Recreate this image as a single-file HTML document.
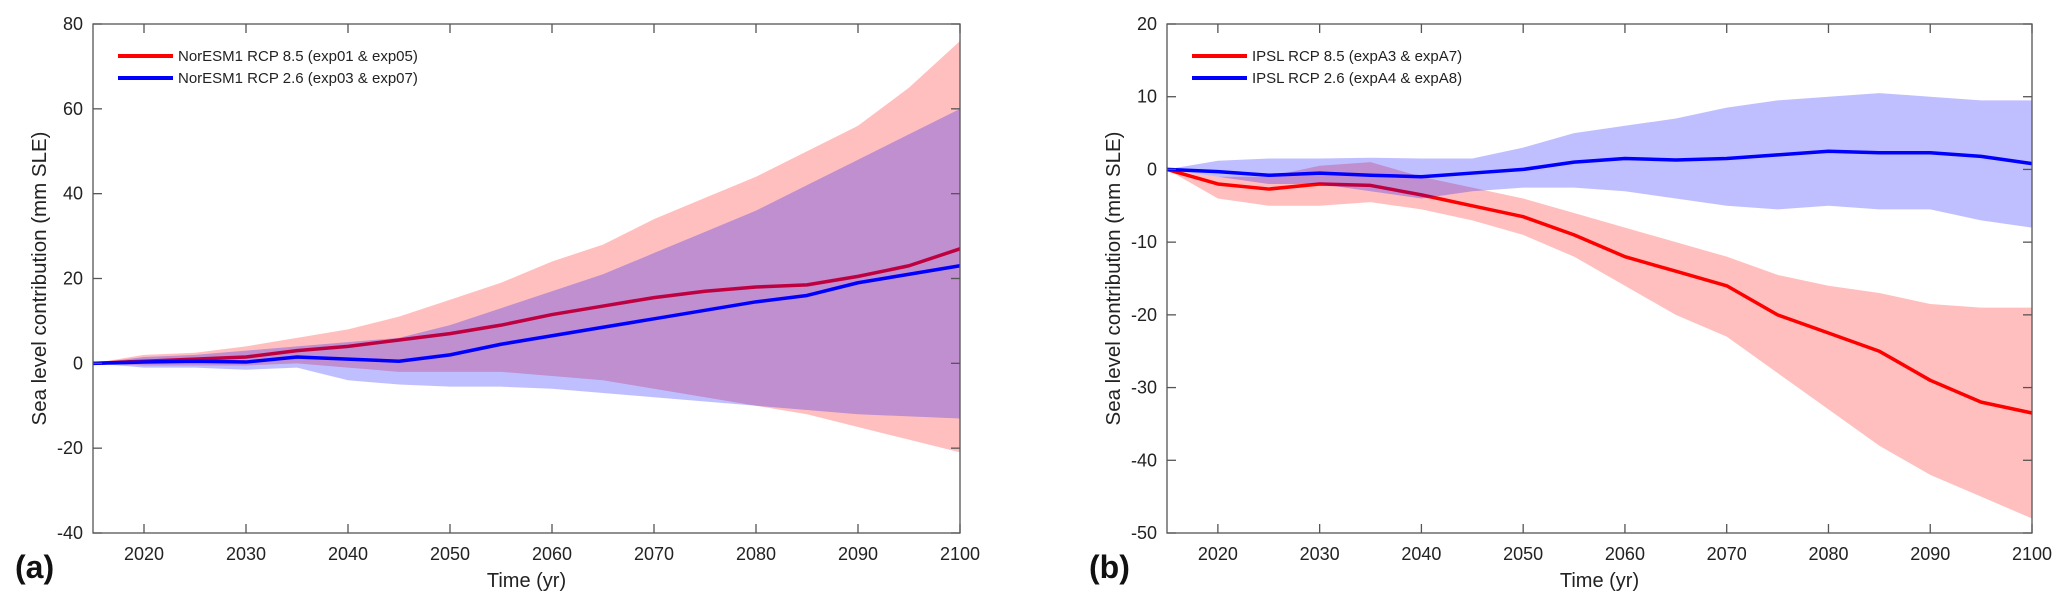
<!DOCTYPE html>
<html><head><meta charset="utf-8">
<style>
html,body{margin:0;padding:0;background:#fff;}
svg{display:block;font-family:"Liberation Sans",Arial,sans-serif;}
</style></head>
<body>
<svg id="chart" width="2067" height="609" viewBox="0 0 2067 609" xmlns="http://www.w3.org/2000/svg"></svg>
<script>
const years = [2015,2020,2025,2030,2035,2040,2045,2050,2055,2060,2065,2070,2075,2080,2085,2090,2095,2100];
// Panel (a) NorESM1
const aRedMean = [0,0.5,1,1.5,3,4,5.5,7,9,11.5,13.5,15.5,17,18,18.5,20.5,23,27];
const aRedUp   = [0,2,2.5,4,6,8,11,15,19,24,28,34,39,44,50,56,65,76];
const aRedLo   = [0,-0.5,-0.5,-0.5,0,-1,-2,-2,-2,-3,-4,-6,-8,-10,-12,-15,-18,-21];
const aBlueMean= [0,0.3,0.5,0.3,1.5,1,0.5,2,4.5,6.5,8.5,10.5,12.5,14.5,16,19,21,23];
const aBlueUp  = [0,1.5,2,3,4,5,6,9,13,17,21,26,31,36,42,48,54,60];
const aBlueLo  = [0,-1,-1,-1.5,-1,-4,-5,-5.5,-5.5,-6,-7,-8,-9,-10,-11,-12,-12.5,-13];
// Panel (b) IPSL
const bRedMean = [0,-2,-2.7,-2,-2.2,-3.5,-5,-6.5,-9,-12,-14,-16,-20,-22.5,-25,-29,-32,-33.5];
const bRedUp   = [0,-1,-1,0.5,1,-1,-2.5,-4,-6,-8,-10,-12,-14.5,-16,-17,-18.5,-19,-19];
const bRedLo   = [0,-4,-5,-5,-4.5,-5.5,-7,-9,-12,-16,-20,-23,-28,-33,-38,-42,-45,-48];
const bBlueMean= [0,-0.3,-0.8,-0.5,-0.8,-1,-0.5,0,1,1.5,1.3,1.5,2,2.5,2.3,2.3,1.8,0.8];
const bBlueUp  = [0,1.2,1.5,1.5,1.6,1.5,1.5,3,5,6,7,8.5,9.5,10,10.5,10,9.5,9.5];
const bBlueLo  = [0,-1,-2,-2,-3,-4,-3,-2.5,-2.5,-3,-4,-5,-5.5,-5,-5.5,-5.5,-7,-8];
const xTicks = [2020,2030,2040,2050,2060,2070,2080,2090,2100];
const aYTicks = [-40,-20,0,20,40,60,80];
const bYTicks = [-50,-40,-30,-20,-10,0,10,20];
const aLegend = ["NorESM1 RCP 8.5 (exp01 & exp05)","NorESM1 RCP 2.6 (exp03 & exp07)"];
const bLegend = ["IPSL RCP 8.5 (expA3 & expA7)","IPSL RCP 2.6 (expA4 & expA8)"];

const NS="http://www.w3.org/2000/svg";
const svg=document.getElementById('chart');
function mk(tag,attrs,parent){const e=document.createElementNS(NS,tag);for(const k in attrs)e.setAttribute(k,attrs[k]);(parent||svg).appendChild(e);return e;}

function panel(cfg){
  const g=mk('g',{});
  
  
  const L=cfg.x0,R=cfg.x1,T=24,B=533;
  const xs=v=>L+(v-2015)/(2100-2015)*(R-L);
  const ys=v=>T+(cfg.ymax-v)/(cfg.ymax-cfg.ymin)*(B-T);
  function band(up,lo,color,nm){
    let d='M'+years.map((y,i)=>xs(y)+','+ys(up[i])).join('L');
    d+='L'+years.slice().reverse().map((y,j)=>{const i=years.length-1-j;return xs(y)+','+ys(lo[i]);}).join('L')+'Z';
    const p=mk('path',{d:d,fill:color,'fill-opacity':0.25,stroke:'none'},g);
    
    
  }
  function line(v,color,nm){
    const p=mk('polyline',{points:years.map((y,i)=>xs(y)+','+ys(v[i])).join(' '),fill:'none',stroke:color,'stroke-width':3.5,'stroke-linejoin':'round'},g);
    
    
  }
  band(cfg.redUp,cfg.redLo,'#ff0000','rcp85-range-band');
  line(cfg.redMean,'#ff0000','rcp85-mean-line');
  band(cfg.blueUp,cfg.blueLo,'#0000ff','rcp26-range-band');
  line(cfg.blueMean,'#0000ff','rcp26-mean-line');
  const box=mk('rect',{x:L,y:T,width:R-L,height:B-T,fill:'none',stroke:'#555','stroke-width':1.3},g);
  
  
  xTicks.forEach(t=>{
    const x=xs(t);
    mk('line',{x1:x,y1:B,x2:x,y2:B-9,stroke:'#555','stroke-width':1.3},g);
    mk('line',{x1:x,y1:T,x2:x,y2:T+9,stroke:'#555','stroke-width':1.3},g);
    const tx=mk('text',{x:x,y:560,'font-size':18,'text-anchor':'middle',fill:'#222'},g);
    tx.textContent=t;
    
    
  });
  cfg.yTicks.forEach(t=>{
    const y=ys(t);
    mk('line',{x1:L,y1:y,x2:L+9,y2:y,stroke:'#555','stroke-width':1.3},g);
    mk('line',{x1:R,y1:y,x2:R-9,y2:y,stroke:'#555','stroke-width':1.3},g);
    const tx=mk('text',{x:L-10,y:y+6,'font-size':18,'text-anchor':'end',fill:'#222'},g);
    tx.textContent=t;
    
    
  });
  const xt=mk('text',{x:(L+R)/2,y:587,'font-size':20,'text-anchor':'middle',fill:'#222'},g);
  xt.textContent='Time (yr)';
  
  
  const yt=mk('text',{x:0,y:0,'font-size':20.5,'text-anchor':'middle',fill:'#222',transform:'translate('+(L-47)+','+((T+B)/2)+') rotate(-90)'},g);
  yt.textContent='Sea level contribution (mm SLE)';
  
  
  const lab=mk('text',{x:L-78,y:578,'font-size':32,'font-weight':'bold',fill:'#111'},g);
  lab.textContent=cfg.label;
  
  
  [['#ff0000',56],['#0000ff',78]].forEach((c,i)=>{
    const le=mk('g',{},g);
    
    
    mk('line',{x1:L+25,y1:c[1],x2:L+80,y2:c[1],stroke:c[0],'stroke-width':4},le);
    const t=mk('text',{x:L+85,y:c[1]+5,'font-size':15,fill:'#222'},le);
    t.textContent=cfg.legend[i];
  });
}
panel({name:'panel-a-noresm1',x0:93,x1:960,ymin:-40,ymax:80,yTicks:aYTicks,label:'(a)',legend:aLegend,
  redMean:aRedMean,redUp:aRedUp,redLo:aRedLo,blueMean:aBlueMean,blueUp:aBlueUp,blueLo:aBlueLo});
panel({name:'panel-b-ipsl',x0:1167,x1:2032,ymin:-50,ymax:20,yTicks:bYTicks,label:'(b)',legend:bLegend,
  redMean:bRedMean,redUp:bRedUp,redLo:bRedLo,blueMean:bBlueMean,blueUp:bBlueUp,blueLo:bBlueLo});
</script>
</body></html>
